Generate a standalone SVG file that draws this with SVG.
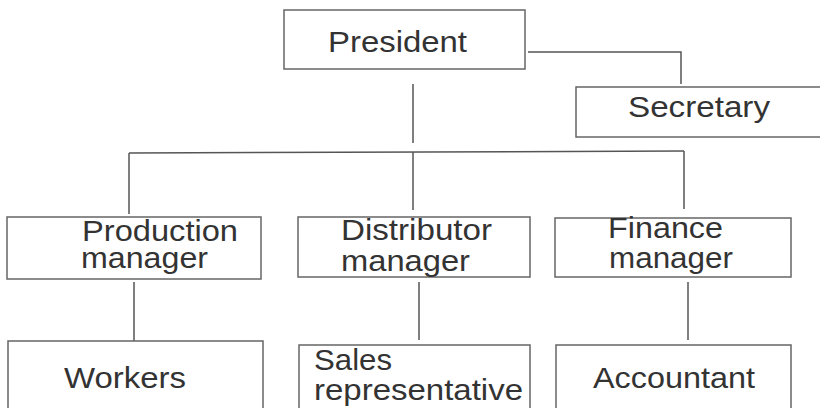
<svg xmlns="http://www.w3.org/2000/svg" width="820" height="408" viewBox="0 0 820 408">
<style>
.box{fill:#fff;stroke:#666;stroke-width:1.5}
.ln{fill:none;stroke:#555;stroke-width:1.5}
.t{font-family:"Liberation Sans",Arial,sans-serif;font-size:29px;fill:#333}
</style>
<rect width="820" height="408" fill="#fff"/>
<g id="connectors">
<polyline class="ln" points="528,52 681,52 681,84"/>
<line class="ln" x1="413" y1="84" x2="413" y2="143"/>
<line class="ln" x1="129" y1="153" x2="684" y2="151"/>
<line class="ln" x1="129" y1="153" x2="129" y2="214"/>
<line class="ln" x1="413" y1="152" x2="413" y2="210"/>
<line class="ln" x1="684" y1="151" x2="684" y2="209"/>
<line class="ln" x1="134" y1="282" x2="134" y2="341"/>
<line class="ln" x1="419" y1="282" x2="419" y2="340"/>
<line class="ln" x1="688" y1="282" x2="688" y2="340"/>
</g>
<g id="president">
<rect class="box" x="284" y="10" width="241" height="59"/>
<text class="t" x="328" y="52" textLength="139" lengthAdjust="spacingAndGlyphs">President</text>
</g>
<g id="secretary">
<rect class="box" x="576" y="87" width="248" height="50"/>
<text class="t" x="628" y="117" textLength="142" lengthAdjust="spacingAndGlyphs">Secretary</text>
</g>
<g id="production">
<rect class="box" x="7" y="217" width="254" height="62"/>
<text class="t" x="82" y="241" textLength="156" lengthAdjust="spacingAndGlyphs">Production</text>
<text class="t" x="81" y="268" textLength="127" lengthAdjust="spacingAndGlyphs">manager</text>
</g>
<g id="distributor">
<rect class="box" x="298" y="217" width="232" height="60"/>
<text class="t" x="341" y="240" textLength="151" lengthAdjust="spacingAndGlyphs">Distributor</text>
<text class="t" x="341" y="271" textLength="129" lengthAdjust="spacingAndGlyphs">manager</text>
</g>
<g id="finance">
<rect class="box" x="555" y="218" width="236" height="59"/>
<text class="t" x="608" y="238" textLength="115" lengthAdjust="spacingAndGlyphs">Finance</text>
<text class="t" x="609" y="268" textLength="124" lengthAdjust="spacingAndGlyphs">manager</text>
</g>
<g id="workers">
<rect class="box" x="8" y="341" width="255" height="75"/>
<text class="t" x="64" y="388" textLength="122" lengthAdjust="spacingAndGlyphs">Workers</text>
</g>
<g id="sales">
<rect class="box" x="299" y="345" width="231" height="75"/>
<text class="t" x="314" y="370" textLength="78" lengthAdjust="spacingAndGlyphs">Sales</text>
<text class="t" x="314" y="400" textLength="209" lengthAdjust="spacingAndGlyphs">representative</text>
</g>
<g id="accountant">
<rect class="box" x="556" y="345" width="235" height="75"/>
<text class="t" x="593" y="388" textLength="162" lengthAdjust="spacingAndGlyphs">Accountant</text>
</g>
</svg>
